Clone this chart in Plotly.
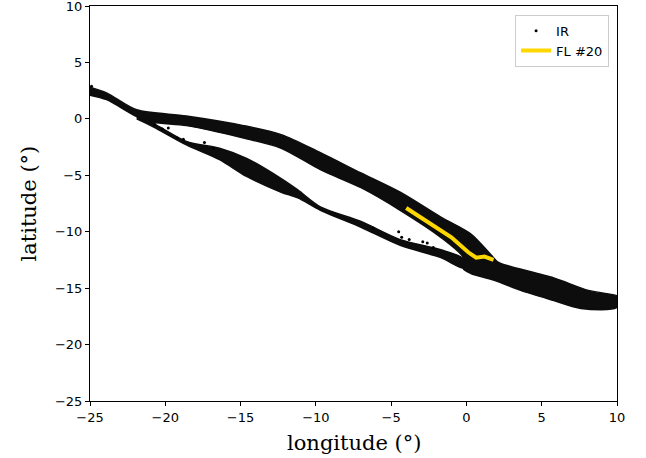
import plotly.graph_objects as go

# ---- data (longitude / latitude in degrees) ----
# Upper IR branch (incl. left combined part and right-hand band): outline
upper_top_lon = [-25.0, -23.9, -21.9, -18.6, -14.8, -12.3, -9.7, -7.0, -4.4, -1.7, 0.3, 1.6, 2.1, 2.7, 5.8, 8.1, 9.8, 10.0]
upper_top_lat = [2.8, 2.3, 0.8, 0.25, -0.6, -1.4, -3.0, -4.8, -6.5, -8.7, -10.2, -12.0, -12.7, -13.0, -14.1, -15.2, -15.6, -15.7]
upper_bot_lon = [10.0, 7.6, 5.8, 3.6, 1.85, 0.3, -0.2, -0.2, -1.7, -4.4, -7.0, -9.7, -12.3, -14.8, -18.6, -20.8, -21.9, -23.9, -25.0]
upper_bot_lat = [-16.7, -16.8, -16.1, -15.2, -14.3, -13.7, -13.3, -12.3, -10.5, -8.1, -6.1, -4.5, -2.6, -1.7, -0.6, -0.3, 0.2, 1.7, 2.1]

# Lower IR branch: outline
lower_top_lon = [-21.9, -20.8, -18.6, -16.4, -14.6, -12.3, -11.2, -9.7, -7.0, -4.4, -1.7, -0.2]
lower_top_lat = [0.2, -0.4, -2.0, -2.6, -3.5, -5.3, -6.3, -7.8, -9.1, -10.7, -11.6, -12.4]
lower_bot_lon = [-0.2, -1.7, -4.4, -7.0, -9.7, -11.2, -12.3, -14.6, -16.4, -18.6, -20.8, -21.9]
lower_bot_lat = [-13.2, -12.3, -11.2, -9.6, -8.1, -7.0, -6.5, -5.1, -3.6, -2.3, -0.7, 0.0]

# Isolated IR points
ir_dot_lon = [-24.9, -20.7, -20.2, -19.8, -19.2, -18.8, -17.4, -16.8, -6.2, -4.5, -4.3, -3.8, -2.9, -2.6, -2.2]
ir_dot_lat = [2.9, -0.5, -0.9, -0.8, -1.7, -1.8, -2.1, -2.6, -9.7, -10.0, -10.5, -10.7, -10.9, -11.0, -11.4]

# Flight line FL #20
fl_lon = [-4.0, -1.0, 0.1, 0.65, 1.2, 1.8]
fl_lat = [-7.9, -10.5, -11.8, -12.3, -12.2, -12.5]

x_ticks = [-25, -20, -15, -10, -5, 0, 5, 10]
y_ticks = [10, 5, 0, -5, -10, -15, -20, -25]

fig = go.Figure()

band_fill = "#0d0d0d"
for lon, lat in ((upper_top_lon + upper_bot_lon, upper_top_lat + upper_bot_lat),
                 (lower_top_lon + lower_bot_lon, lower_top_lat + lower_bot_lat)):
    fig.add_trace(go.Scatter(
        x=lon, y=lat, mode="lines", fill="toself", fillcolor=band_fill,
        line=dict(color=band_fill, width=1.5, shape="spline", smoothing=0.8),
        showlegend=False, hoverinfo="skip", legendgroup="ir"))
fig.add_trace(go.Scatter(
    x=ir_dot_lon, y=ir_dot_lat, mode="markers", name="IR",
    marker=dict(color="black", size=3), legendgroup="ir"))
fig.add_trace(go.Scatter(
    x=fl_lon, y=fl_lat, mode="lines", name="FL #20",
    line=dict(color="#FFD700", width=4)))

axis_common = dict(
    showgrid=False, zeroline=False, showline=True, linecolor="black",
    linewidth=1, mirror=True, ticks="outside", ticklen=4, tickcolor="black",
    tickfont=dict(family="DejaVu Sans", size=13, color="black"),
    automargin=False, ticklabeloverflow="allow",
)

fig.update_layout(
    width=646, height=458,
    margin=dict(l=90, r=29, t=6, b=57),
    paper_bgcolor="white", plot_bgcolor="white",
    xaxis=dict(range=[-25, 10], tickvals=x_ticks, **axis_common),
    yaxis=dict(range=[-25, 10], tickvals=y_ticks, **axis_common),
    legend=dict(x=0.985, y=0.978, xanchor="right", yanchor="top",
                bgcolor="white", bordercolor="#cccccc", borderwidth=1,
                font=dict(family="DejaVu Sans", size=13, color="black"),
                traceorder="normal", tracegroupgap=0, entrywidth=66),
    showlegend=True,
    annotations=[
        dict(text="longitude (°)", xref="paper", yref="paper", x=0.5, y=0,
             xanchor="center", yanchor="middle", yshift=-42, showarrow=False,
             font=dict(family="DejaVu Serif", size=21, color="black")),
        dict(text="latitude (°)", xref="paper", yref="paper", x=0, y=0.5,
             xanchor="center", yanchor="middle", xshift=-62, textangle=-90,
             showarrow=False,
             font=dict(family="DejaVu Serif", size=21, color="black")),
    ],
)

fig.write_html("out.html", config={"displayModeBar": False},
               post_script="document.body.style.margin='0';document.body.style.overflow='hidden';")
